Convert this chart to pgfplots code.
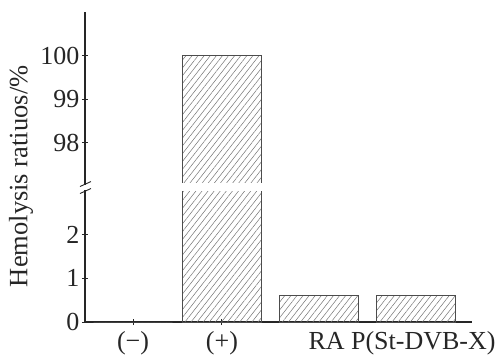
\documentclass[border=0pt]{standalone}
\usepackage{fontspec}
\setmainfont{Liberation Serif}
\usepackage{pgfplots}
\pgfplotsset{compat=1.18}
\usetikzlibrary{patterns.meta}
\begin{document}
\begin{tikzpicture}
\begin{axis}[
  at={(0,0)}, anchor=origin,
  scale only axis,
  width=387pt, height=310pt,
  axis x line=bottom, axis y line=left,
  axis line style={-, line width=1.1pt, black!85},
  xmin=0.588, xmax=4.577,
  y coord trafo/.code={\pgfmathparse{(#1>50)*(#1-93.9)+(#1<=50)*#1}},
  y coord inv trafo/.code={\pgfmathparse{(#1>3.5)*(#1+93.9)+(#1<=3.5)*#1}},
  ymin=0, ymax=101,
  ytick={0,1,2,98,99,100},
  yticklabels={0,1,2,98,99,100},
  xtick={1.083,2},
  xticklabels={(−),(+)},
  extra x ticks={3.856},
  extra x tick labels={RA P(St-DVB-X)},
  extra x tick style={tick style={draw=none}},
  tick align=center,
  major tick length=6pt,
  tick style={line width=1pt, black!85},
  /pgf/number format/assume math mode=true,
  ticklabel style={font=\fontsize{26}{30}\selectfont, text=black!85},
  xticklabel style={yshift=-3pt, text depth=0.25em},
  yticklabel style={xshift=1pt},
  ylabel={Hemolysis ratiuos/\%},
  ylabel style={font=\fontsize{26.5}{30}\selectfont, text=black!85,
    at={(axis description cs:-0.165,0.47)}, anchor=center},
  clip=false,
]
\addplot[ybar, bar width=0.81, draw=black!70, line width=0.8pt,
  pattern={Lines[angle=52,distance=4.8pt,line width=0.5pt]}, pattern color=black!55]
  coordinates {(1.083,0) (2,100) (3,0.6) (4,0.6)};
% axis break
\fill[white] (axis cs:1.55,2.99) rectangle (axis cs:2.45,3.19);
\fill[white] (axis cs:0.5,3.02) rectangle (axis cs:0.68,3.14);
\draw[line width=0.9pt, black!85] ([xshift=-5pt,yshift=-2.5pt]axis cs:0.588,3.0) -- ([xshift=6pt,yshift=2.5pt]axis cs:0.588,3.0);
\draw[line width=0.9pt, black!85] ([xshift=-5pt,yshift=-2.5pt]axis cs:0.588,3.16) -- ([xshift=6pt,yshift=2.5pt]axis cs:0.588,3.16);
\end{axis}
\pgfresetboundingbox
\useasboundingbox (-85pt,-34pt) rectangle (412pt,322pt);
\end{tikzpicture}
\end{document}
